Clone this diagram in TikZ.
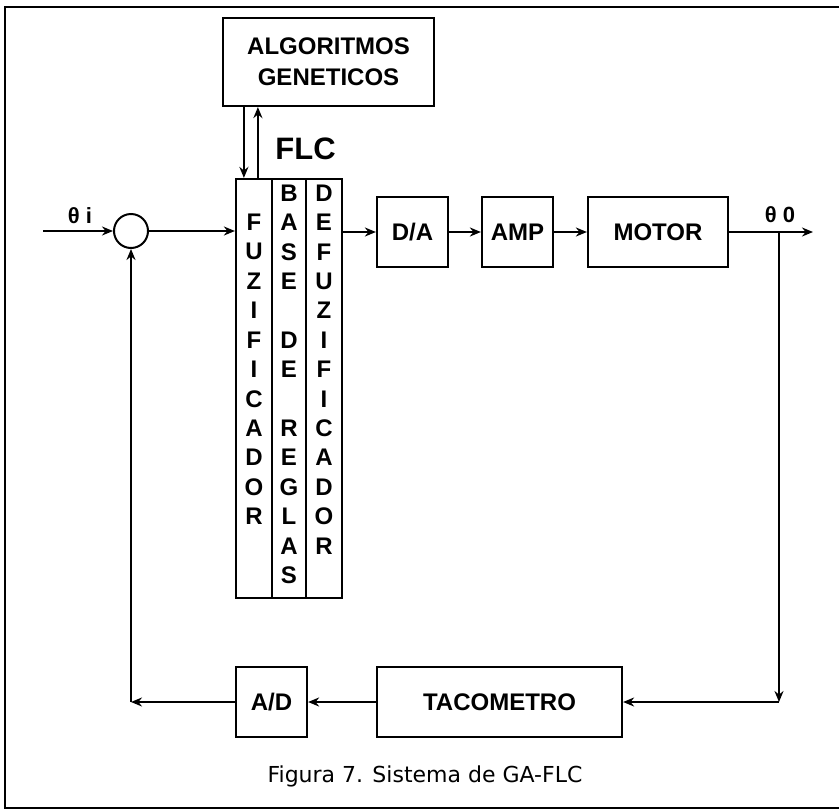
\documentclass[tikz,border=0pt]{standalone}
\usepackage{fontspec}
\setmainfont{Liberation Sans}
\newfontfamily\piefont{DejaVu Sans}
\usetikzlibrary{positioning, arrows.meta, calc}

\tikzset{
  caja/.style={draw, line width=2.2pt, minimum height=70pt, inner sep=0pt,
    font=\fontsize{24}{31}\selectfont\bfseries},
  columna/.style={draw, line width=2.2pt, minimum height=419pt, inner sep=0pt},
  letra/.style={font=\fontsize{24}{24}\selectfont\bfseries, inner sep=0pt},
  flecha/.style={-{Stealth[length=11pt, width=9pt]}, line width=2pt},
  etiq/.style={font=\fontsize{22}{22}\selectfont\bfseries, anchor=base, inner sep=0pt},
}

\begin{document}
\begin{tikzpicture}[x=1pt, y=-1pt]
\useasboundingbox (0,0) rectangle (839,809);
% marco
\draw[line width=2pt] (839,7) -- (5,7) -- (5,808) -- (839,808);

% bloques
\node[caja, minimum width=211pt, minimum height=88pt, align=center] (ga)
  at (328.5,62) {ALGORITMOS\\GENETICOS};
\node[columna, minimum width=36pt] (fuz) at (254,388.5) {};
\node[columna, minimum width=34pt] (base) at (289,388.5) {};
\node[columna, minimum width=36pt] (defuz) at (324,388.5) {};
\node[font=\fontsize{31}{31}\selectfont\bfseries, anchor=base] (flc) at (305.5,159) {FLC};

\node[draw, circle, line width=2pt, minimum size=34pt, inner sep=0pt] (suma) at (131,231) {};
\node[caja, minimum width=71pt] (da) at (412.5,232) {D/A};
\node[caja, minimum width=71pt] (amp) at (517.5,232) {AMP};
\node[caja, minimum width=140pt] (motor) at (658,232) {MOTOR};
\node[caja, minimum width=245pt] (taco) at (499.5,702) {TACOMETRO};
\node[caja, minimum width=71pt] (ad) at (271.5,702) {A/D};

% letras de las columnas
\foreach \ch [count=\k] in {F,U,Z,I,F,I,C,A,D,O,R}
  \node[letra] (f\k) at (254,{193+29.4*\k}) {\ch};
\foreach \ch [count=\k from 0] in {B,A,S,E,{},D,E,{},R,E,G,L,A,S}
  \node[letra] (b\k) at (289,{193+29.4*\k}) {\ch};
\foreach \ch [count=\k from 0] in {D,E,F,U,Z,I,F,I,C,A,D,O,R}
  \node[letra] (d\k) at (324,{193+29.4*\k}) {\ch};

% etiquetas
\node[etiq] (thi) at (80,223) {θ i};
\node[etiq] (tho) at (780,222) {θ 0};

\coordinate (entrada) at (43,231);
\coordinate (salida) at (813,232);
\coordinate (rama) at (779,232);
\coordinate (esqd) at (779,702);
\coordinate (esqi) at (131,702);

% conexiones
\draw[flecha] (entrada) -- (suma);
\draw[flecha] (suma) -- (suma -| fuz.west);
\draw[flecha] (defuz.east |- da.west) -- (da);
\draw[flecha] (da) -- (amp);
\draw[flecha] (amp) -- (motor);
\draw[flecha] (motor) -- (salida);
\draw[flecha] (rama) -- (esqd);
\draw[flecha] (esqd) -- (taco);
\draw[flecha] (taco) -- (ad);
\draw[flecha] (ad) -- (esqi);
\draw[flecha] (esqi) -- (suma);
\draw[flecha] ([xshift=22pt]ga.south west) -- ([xshift=9pt]fuz.north west);
\draw[flecha] ([xshift=23pt]fuz.north west) -- ([xshift=36pt]ga.south west);

\node[font=\piefont\fontsize{22}{26}\selectfont, anchor=base] (pie) at (425,782)
  {Figura 7. Sistema de GA-FLC};
\end{tikzpicture}
\end{document}
